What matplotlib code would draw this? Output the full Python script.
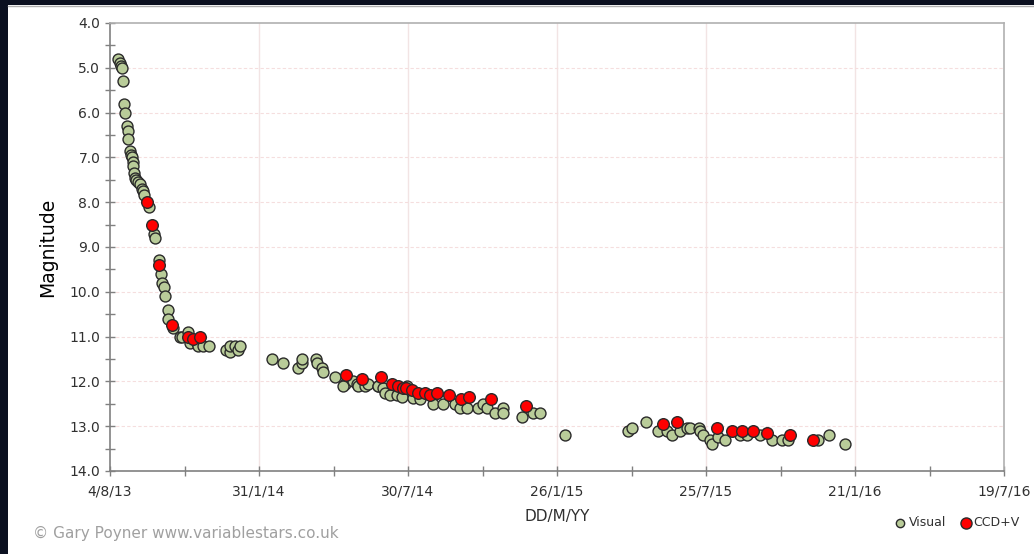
import matplotlib
matplotlib.use('Agg')
import matplotlib.pyplot as plt
from matplotlib.patches import Rectangle
from matplotlib.lines import Line2D

# days after 4/8/13 and visual magnitude
vis_day = [10, 12, 13, 14, 16, 17, 18, 20, 22, 22, 24, 25, 27, 28, 28, 29, 30, 31, 34, 36,
           39, 40, 41, 47, 53, 54, 59, 62, 63, 65, 66, 70, 70, 76, 85, 87, 94, 97, 105, 106,
           112, 120, 140, 145, 145, 151, 155, 157, 196, 209, 227, 232, 232, 249, 250, 256, 257,
           272, 284, 281, 294, 298, 300, 308, 312, 324, 324, 330, 332, 338, 347, 353, 359, 366,
           374, 390, 402, 417, 423, 431, 445, 451, 455, 465, 475, 475, 498, 511, 519, 550,
           626, 631, 647, 662, 673, 679, 689, 697, 701, 711, 713, 716, 725, 727, 734, 743,
           761, 769, 785, 800, 812, 819, 855, 869, 888]
vis_mag = [4.8, 4.9, 4.95, 5.0, 5.3, 5.8, 6.0, 6.3, 6.4, 6.6, 6.85, 6.95, 7.0, 7.1, 7.2, 7.35, 7.45, 7.5, 7.55, 7.6,
           7.7, 7.75, 7.85, 8.1, 8.7, 8.8, 9.3, 9.6, 9.8, 9.9, 10.1, 10.4, 10.6, 10.8, 11.0, 11.0, 10.9, 11.15, 11.15, 11.2,
           11.2, 11.2, 11.3, 11.35, 11.2, 11.2, 11.3, 11.2, 11.5, 11.6, 11.7, 11.6, 11.5, 11.5, 11.6, 11.7, 11.8,
           11.9, 12.05, 12.1, 12.0, 12.05, 12.1, 12.1, 12.05, 12.1, 12.1, 12.15, 12.25, 12.3, 12.3, 12.35, 12.1, 12.37,
           12.4, 12.5, 12.5, 12.5, 12.6, 12.6, 12.6, 12.5, 12.6, 12.7, 12.6, 12.7, 12.8, 12.7, 12.7, 13.2,
           13.1, 13.05, 12.9, 13.1, 13.1, 13.2, 13.1, 13.05, 13.05, 13.05, 13.1, 13.2, 13.3, 13.4, 13.25, 13.3,
           13.2, 13.2, 13.2, 13.3, 13.3, 13.3, 13.3, 13.2, 13.4]

# CCD V observations
ccd_day = [45, 51, 59, 75, 94, 100, 109, 285, 304, 327, 341, 348, 354, 357, 365, 372, 380, 387,
           395, 410, 424, 434, 460, 502, 668, 685, 733, 751, 763, 777, 794, 821, 849]
ccd_mag = [8.0, 8.5, 9.4, 10.75, 11.0, 11.05, 11.0, 11.85, 11.95, 11.9, 12.05, 12.1, 12.15, 12.15, 12.2, 12.25, 12.25, 12.3,
           12.25, 12.3, 12.4, 12.35, 12.4, 12.55, 12.95, 12.9, 13.05, 13.1, 13.1, 13.1, 13.15, 13.2, 13.3]

tick_days = [0, 180, 360, 540, 720, 900, 1080]
tick_labels = ['4/8/13', '31/1/14', '30/7/14', '26/1/15', '25/7/15', '21/1/16', '19/7/16']

fig = plt.figure(figsize=(10.34, 5.54), dpi=100)
fig.patch.set_facecolor('white')

# dark strips round the edge of the screenshot
fig.patches.append(Rectangle((0, 1 - 5/554), 1, 5/554, transform=fig.transFigure,
                             facecolor='#0b1020', edgecolor='none', zorder=0))
fig.patches.append(Rectangle((0, 0), 8/1034, 1, transform=fig.transFigure,
                             facecolor='#0b1020', edgecolor='none', zorder=0))
fig.add_artist(Line2D([8/1034, 1], [1 - 6/554, 1 - 6/554], color='#b0b0b0', lw=1))

ax = fig.add_axes([110/1034, 1 - 471/554, 894/1034, 448/554])

ax.scatter(vis_day, vis_mag, s=62, c='#b9cc99', edgecolors='#2a2a2a', linewidths=1.0, zorder=3)
ax.scatter(ccd_day, ccd_mag, s=70, c='#ff0000', edgecolors='#2a2a2a', linewidths=1.0, zorder=4)

ax.set_xlim(0, 1080)
ax.set_ylim(14, 4)
ax.set_xticks(tick_days)
ax.set_xticklabels(tick_labels)
ax.set_xticks([90, 270, 450, 630, 810, 990], minor=True)
ax.set_yticks([4, 5, 6, 7, 8, 9, 10, 11, 12, 13, 14])
ax.set_yticklabels(['%.1f' % v for v in range(4, 15)])
ax.set_yticks([4.5 + i for i in range(10)], minor=True)

ax.tick_params(which='both', direction='inout', length=7, width=1, color='#808080',
               labelsize=10, labelcolor='#303030')
ax.tick_params(axis='x', which='major', pad=6)

for v in tick_days[1:-1]:
    ax.axvline(v, color='#f2e4e4', lw=1, zorder=1)
for v in range(5, 14):
    ax.axhline(v, color='#f5dede', lw=0.8, ls=(0, (3, 2)), zorder=1)

ax.spines['left'].set_color('#808080')
ax.spines['bottom'].set_color('#808080')
ax.spines['top'].set_color('#b0b0b0')
ax.spines['right'].set_color('#b0b0b0')
for s in ax.spines.values():
    s.set_linewidth(1.2)

ax.set_ylabel('Magnitude', fontsize=13.5, color='black', labelpad=9)
ax.set_xlabel('DD/M/YY', fontsize=11, color='#303030', labelpad=8)

fig.text(33/1034, 1 - 533/554, '\u00a9 Gary Poyner www.variablestars.co.uk',
         fontsize=11, color='#a0a0a0', va='center')

# legend
fig.add_artist(Line2D([900/1034], [1 - 523/554], marker='o', ms=6, mfc='#b9cc99', mec='#2a2a2a', ls=''))
fig.text(909/1034, 1 - 523/554, 'Visual', fontsize=9, color='#303030', va='center')
fig.add_artist(Line2D([966/1034], [1 - 523/554], marker='o', ms=8, mfc='#ff0000', mec='#2a2a2a', ls=''))
fig.text(973/1034, 1 - 523/554, 'CCD+V', fontsize=9, color='#303030', va='center')

fig.savefig('out.png', dpi=100)
